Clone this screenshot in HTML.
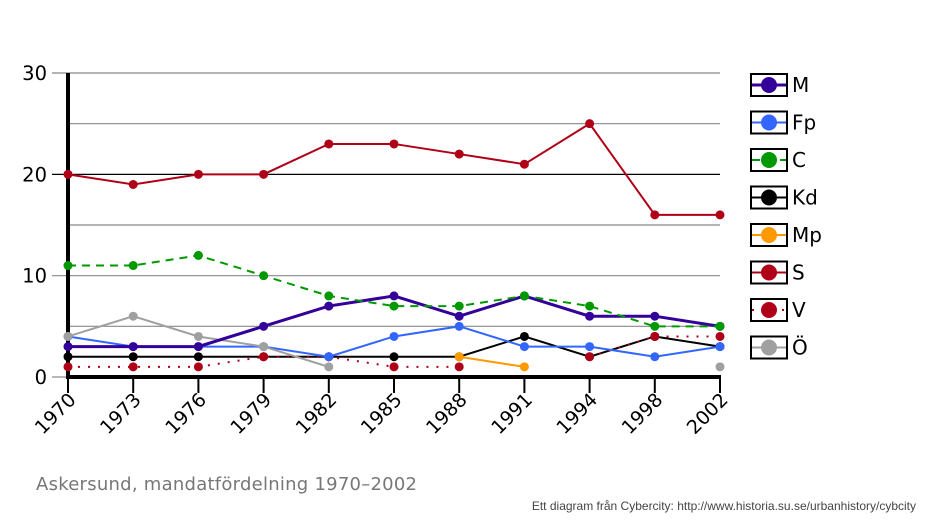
<!DOCTYPE html>
<html><head><meta charset="utf-8"><style>body{margin:0;background:#fff}svg{display:block}</style></head>
<body>
<svg id="c" width="934" height="521" xmlns="http://www.w3.org/2000/svg" font-family="'DejaVu Sans','Liberation Sans',sans-serif"></svg>
<script>
const s=document.getElementById('c');
let h='';
const X=i=>68+i*65.2, Y=v=>377-v*10.133;
for(let v=5;v<=30;v+=5){const maj=v%10==0;h+=`<line x1="${maj?52:68}" x2="720" y1="${Y(v)}" y2="${Y(v)}" stroke="${v==20?'#000':'#888'}" stroke-width="1.2"/>`;}
h+=`<line x1="52" x2="68" y1="377" y2="377" stroke="#888" stroke-width="1.2"/>`;
[0,10,20,30].forEach(v=>h+=`<text x="47" y="${Y(v)+7}" font-size="19.5" text-anchor="end">${v}</text>`);
const yrs=[1970,1973,1976,1979,1982,1985,1988,1991,1994,1998,2002];
yrs.forEach((y,i)=>{h+=`<line x1="${X(i)}" x2="${X(i)}" y1="377" y2="393" stroke="#000" stroke-width="2"/>`;
h+=`<text transform="translate(${X(i)+9},${401}) rotate(-45)" font-size="19" text-anchor="end">${y}</text>`;});
h+=`<line x1="68" x2="68" y1="73" y2="379" stroke="#000" stroke-width="4"/><line x1="66" x2="721" y1="377" y2="377" stroke="#000" stroke-width="4"/>`;
const N=null;
const ser=[
["Kd","#000",2,"",[2,2,2,2,2,2,2,4,2,4,3]],
["V","#b00018",2,"2 8",[1,1,1,2,2,1,1,N,2,4,4]],
["Mp","#ff9900",2,"",[N,N,N,N,N,N,2,1,N,N,N]],
["Fp","#3366ff",2,"",[4,3,3,3,2,4,5,3,3,2,3]],
["Ö","#a0a0a0",2,"",[4,6,4,3,1,N,N,N,N,N,1]],
["M","#330099",3,"",[3,3,3,5,7,8,6,8,6,6,5]],
["C","#009900",2,"8 6",[11,11,12,10,8,7,7,8,7,5,5]],
["S","#b00018",2,"",[20,19,20,20,23,23,22,21,25,16,16]],
];
ser.forEach(([n,c,w,d,v])=>{let p='';v.forEach((a,i)=>{if(a===N){return}const pre=(i>0&&v[i-1]!==N)?'L':'M';p+=`${pre}${X(i)},${Y(a)} `;});
h+=`<path d="${p}" fill="none" stroke="${c}" stroke-width="${w}" ${d?`stroke-dasharray="${d}"`:''}/>`;
v.forEach((a,i)=>{if(a!==N)h+=`<circle cx="${X(i)}" cy="${Y(a)}" r="4.5" fill="${c}"/>`;});});
const leg=[["M","#330099","",3],["Fp","#3366ff","",2],["C","#009900","8 6",2],["Kd","#000","",2],["Mp","#ff9900","",2],["S","#b00018","",2],["V","#b00018","2 8",2],["Ö","#a0a0a0","",2]];
leg.forEach(([n,c,d,w],k)=>{const y=85+k*37.5;
h+=`<rect x="751" y="${y-11}" width="36" height="22" fill="#fff" stroke="#000" stroke-width="2"/>`;
h+=`<line x1="752" x2="786" y1="${y}" y2="${y}" stroke="${c}" stroke-width="${w}" ${d?`stroke-dasharray="${d}"`:''}/>`;
h+=`<circle cx="769" cy="${y}" r="8" fill="${c}"/>`;
h+=`<text x="792" y="${y+7}" font-size="20">${n}</text>`;});
h+=`<text x="36" y="490" font-size="18" fill="#777" textLength="381">Askersund, mandatfördelning 1970–2002</text>`;
h+=`<text x="916" y="510" font-size="12" fill="#444" text-anchor="end" font-family="'Liberation Sans',sans-serif">Ett diagram från Cybercity: http://www.historia.su.se/urbanhistory/cybcity</text>`;
s.innerHTML=h;
</script>
</body></html>
